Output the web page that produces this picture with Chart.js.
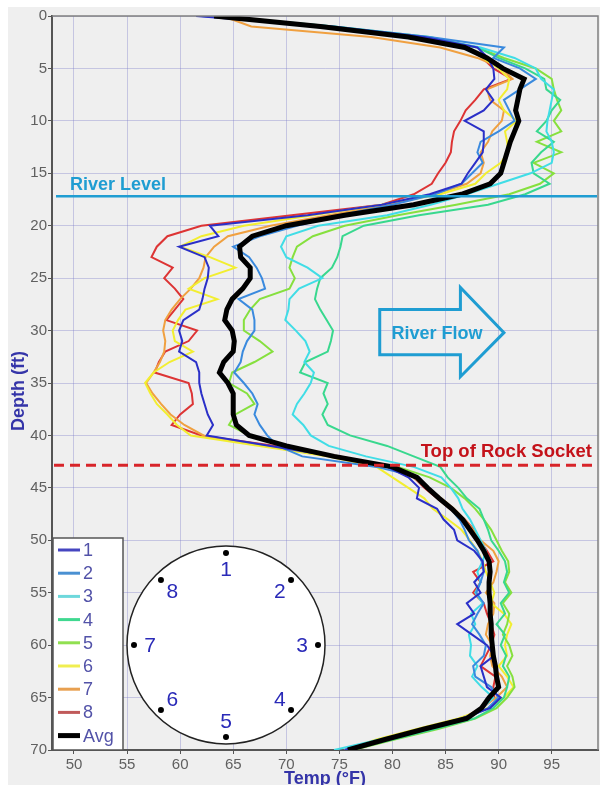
<!DOCTYPE html>
<html>
<head>
<meta charset="utf-8">
<script src="https://cdn.jsdelivr.net/npm/chart.js@4"></script>
<style>
  html, body { margin: 0; padding: 0; background: #fff; }
  canvas { display: block; }
</style>
</head>
<body>
<canvas id="chart" width="604" height="785"></canvas>
<script>
// Depth profile, one reading per foot (ft), temperatures in °F
const depthFt = Array.from({ length: 71 }, (_, i) => i);

const t1 = [61.5,74,83,88,89,89.5,89.6,88.8,89.5,88.6,86.8,88.6,88.6,88.5,87.8,87.1,86.5,83.5,79,72,
  62.8,63.6,59.9,62.3,62.7,62.6,62.3,62.1,61.8,60.3,59.9,60.2,59.9,61.5,61.8,61.8,62,62.3,62.6,63.1,
  62.5,68.5,74.5,79.5,81.5,82.5,82.3,84.2,84.8,85.8,86.1,87.7,88.5,88.6,87.7,88.3,87,87.7,86.1,87.5,
  88.9,89.6,88.3,88.6,88.9,90.2,89.2,86.5,82.8,79,75.5];
const t2 = [62,74.5,83.5,90.5,89.5,92,93.5,92,90.5,91,91.5,90,88.3,88,88.5,87.5,86.5,84,80,75,
  71,67.5,65,66.5,67.2,67.7,68,65.5,66.8,67,67,66.3,65.9,65.7,65.1,66,66.8,67.3,67,67.5,
  68.2,69.2,71.5,78.5,82.5,83.3,84.5,85.5,86.3,86.8,87.2,88,88.4,88.6,88.3,87.9,88.6,88,87.5,88.2,
  88.8,88.6,87.6,87.8,89.3,90,89,86.8,83.3,79.3,75.5];
const t3 = [63,74,83,88.3,91.5,93.5,94,95.2,95,94.8,94.6,94.5,95,95.2,95,93,90,87,83.6,79.5,
  73,70,69.5,70,72,73.4,71.2,70.3,70.2,69.9,70.9,71.8,72.2,71.7,72.6,72.3,71.7,71,70.6,71.6,
  72.3,74,77.5,82,84.6,85.5,86.2,86.6,87.3,87.8,88.3,88.8,88.5,88,88.3,87.8,88.5,87.4,87.8,87.2,
  87.4,87.3,88,87.5,88.4,89.5,88.5,86.8,83,78.8,74.5];
const t4 = [63.5,74.5,83.5,88,90,92.5,94.3,94.5,95.8,95,94.5,93.6,95.2,94,93.1,93.3,94.8,92.5,89,82.5,
  77.3,75.3,75.1,74.8,74.3,73.2,72.9,72.7,73.2,73.8,74.4,74.2,73.9,71.8,71.3,73.9,73.5,73.9,73.4,73.9,
  76,79.5,82,84.5,85.2,86.2,87,88.2,88.6,89,89.3,90,90.6,90.8,90.5,91,90.2,90.6,89.8,90.6,
  90.2,90.7,90.4,91,90.8,90.5,89.5,87.7,84,80,76];
const t5 = [63,74,83,88,90.5,93.5,95,95.2,95.5,95.9,95.2,95.9,93.6,95.9,93.3,95.2,93.9,91,86,80.5,
  75.5,72.5,71,70.6,70.3,70.8,70.3,67.5,66.6,66,66,67.5,68.7,67,64.9,64.6,66.3,67,65.2,64.6,
  66.5,70,74.5,80.5,83.5,85.5,86.8,87.8,88.6,89.3,89.8,90.3,90.9,91,90.6,91.2,90.4,91,90.8,90.4,
  91,91.3,90.8,91.3,91.5,90.8,89.8,87.8,84.3,80.2,76.3];
const t6 = [63.5,73.5,82,87,88.5,90,91,90.8,90,90.5,91.7,90.6,90.8,90.9,90.2,88.8,87.8,84.5,79,72.5,
  66,62,60,62.8,65.2,62.3,60.8,63.5,60.5,59.8,59.3,59.5,61.2,59,57.5,56.7,57.2,57.8,58.8,59.7,
  61,67.5,74,78.5,80,81.5,83,83.8,85.2,86.5,87.3,88,88.5,88.8,89.2,89.6,89.3,90.5,91.2,90.8,
  90.6,90.8,90,90.8,91.4,90.5,89,86.2,82.3,78.5,75.5];
const t7 = [64,66.7,78,84.5,88,90.3,91.3,88.9,89.2,90.5,90.3,89.4,89,88.3,88.6,88.3,87,84,79.5,74,
  68.5,64.5,63.2,62.4,62.2,61.8,61,60,59.2,58.6,58.4,58.6,58.5,58.1,57.5,56.8,57.4,58.2,59.1,60.4,
  62.2,68,74.2,79.5,82,83.3,84.6,85.8,86.8,87.6,88.3,89.5,90,89.8,89.5,88.8,89.6,89.5,89,88.8,
  89.4,89.2,89.4,90.3,90.8,89.8,88.3,86.6,83,79,75.8];
const t8 = [63,72.5,82,87,88.5,89.5,91.2,88.6,87.8,86.9,86.4,85.8,85.6,85.5,85,84.3,83.7,82,79,70.5,
  62,58.8,57.8,57.3,59.3,58.5,59.5,60.3,59.5,58.7,61.6,60.8,58.6,58,57.6,60.8,61.1,61.2,60,59.2,
  62,69,75,80,82,83,84.2,85.4,86.8,87.7,88.2,88.9,89.5,87.6,88.3,87.6,88.6,88.9,89.3,89.6,
  89.3,88.8,88.3,89.7,89.5,89.6,88.5,86.5,83,79,75.8];
const tAvg = [63.2,73.2,81.5,86.8,88.9,90.4,92.4,92,91.8,91.6,91.9,91.5,91.1,90.8,90.5,90.2,89.2,86.5,82,75.5,
  70,66.8,65.6,65.7,66.6,66.6,65.9,64.9,64.4,64.2,64.9,65.1,65,64.1,63.7,64.5,65,65,65,65.3,
  66.5,70,74.5,80,82.3,83.3,84.4,85.6,86.6,87.3,88,88.6,89.1,89.2,89.1,89.1,89.2,89.2,89.3,89.3,
  89.4,89.5,89.7,89.8,90,89.1,88.4,87,83,79.3,75.8];

const seriesLabels = ['1', '2', '3', '4', '5', '6', '7', '8'];
const seriesTemps = [t1, t2, t3, t4, t5, t6, t7, t8];
const tempTicks = [50, 55, 60, 65, 70, 75, 80, 85, 90, 95];
const depthTicks = [0, 5, 10, 15, 20, 25, 30, 35, 40, 45, 50, 55, 60, 65, 70];
const riverLevelFt = 17.2;
const rockSocketFt = 42.85;

const palette = ['#2a2fc8', '#3a8ade', '#40dde6', '#38d88e', '#86e03e', '#f2ee30', '#f0a040', '#dd3434'];
const legendPalette = ['#4646c0', '#4a90d2', '#6ed8dc', '#40d890', '#90e050', '#f0ee50', '#e8a050', '#c05a5a'];
const BLUE = '#1f9dd2';
const AXIS_BLUE = '#3434a8';

const datasets = seriesTemps.map((temps, i) => ({
  label: seriesLabels[i],
  data: temps.map((t, k) => ({ x: t, y: depthFt[k] })),
  borderColor: palette[i],
  borderWidth: 2,
  showLine: true,
  order: 1
}));
datasets.push({
  label: 'Avg',
  data: tAvg.map((t, k) => ({ x: t, y: depthFt[k] })),
  borderColor: '#000',
  borderWidth: 5,
  showLine: true,
  order: 0
});

const decor = {
  id: 'decor',
  beforeDraw(chart) {
    const ctx = chart.ctx;
    ctx.save();
    ctx.fillStyle = '#fff';
    ctx.fillRect(0, 0, chart.width, chart.height);
    ctx.fillStyle = '#efefef';
    ctx.fillRect(8, 7, 592, chart.height - 7);
    ctx.restore();
  },
  afterDatasetsDraw(chart) {
    const ctx = chart.ctx;
    const a = chart.chartArea;
    const xs = chart.scales.x, ys = chart.scales.y;
    ctx.save();

    // frame top / right
    ctx.strokeStyle = '#808080';
    ctx.lineWidth = 1.5;
    ctx.beginPath();
    ctx.moveTo(a.left, a.top); ctx.lineTo(a.right, a.top); ctx.lineTo(a.right, a.bottom);
    ctx.stroke();

    // river level
    const yRiver = ys.getPixelForValue(riverLevelFt);
    ctx.strokeStyle = BLUE;
    ctx.lineWidth = 2.5;
    ctx.beginPath(); ctx.moveTo(a.left + 4, yRiver); ctx.lineTo(a.right - 1, yRiver); ctx.stroke();
    ctx.fillStyle = BLUE;
    ctx.font = 'bold 18px "Liberation Sans", Arial, sans-serif';
    ctx.textBaseline = 'alphabetic';
    ctx.textAlign = 'left';
    ctx.fillText('River Level', 70, yRiver - 6);

    // top of rock socket
    const yRock = ys.getPixelForValue(rockSocketFt);
    ctx.strokeStyle = '#d8242a';
    ctx.lineWidth = 3;
    ctx.setLineDash([10, 6]);
    ctx.beginPath(); ctx.moveTo(a.left + 2, yRock); ctx.lineTo(a.right, yRock); ctx.stroke();
    ctx.setLineDash([]);
    ctx.fillStyle = '#c4121a';
    ctx.font = 'bold 18.5px "Liberation Sans", Arial, sans-serif';
    ctx.textAlign = 'right';
    ctx.fillText('Top of Rock Socket', 592, yRock - 8);

    // river flow arrow
    const bx0 = xs.getPixelForValue(78.8), bx1 = xs.getPixelForValue(86.4), tip = xs.getPixelForValue(90.5);
    const by0 = ys.getPixelForValue(28.0), by1 = ys.getPixelForValue(32.3);
    const hy0 = ys.getPixelForValue(25.9), hy1 = ys.getPixelForValue(34.4), ty = ys.getPixelForValue(30.2);
    ctx.strokeStyle = BLUE;
    ctx.lineWidth = 3;
    ctx.lineJoin = 'miter';
    ctx.beginPath();
    ctx.moveTo(bx0, by0); ctx.lineTo(bx1, by0); ctx.lineTo(bx1, hy0); ctx.lineTo(tip, ty);
    ctx.lineTo(bx1, hy1); ctx.lineTo(bx1, by1); ctx.lineTo(bx0, by1); ctx.closePath();
    ctx.stroke();
    ctx.fillStyle = BLUE;
    ctx.font = 'bold 18px "Liberation Sans", Arial, sans-serif';
    ctx.textAlign = 'center';
    ctx.fillText('River Flow', 437, ty + 6);

    // legend
    const lx = a.left + 1, ly = 538, lw = 70, lh = a.bottom - ly;
    ctx.fillStyle = '#fff';
    ctx.fillRect(lx, ly, lw, lh);
    ctx.strokeStyle = '#555';
    ctx.lineWidth = 1.5;
    ctx.strokeRect(lx, ly, lw, lh);
    const entries = seriesLabels.map((l, i) => ({ label: l, color: legendPalette[i], w: 3 }))
      .concat([{ label: 'Avg', color: '#000', w: 5 }]);
    ctx.font = '18px "Liberation Sans", Arial, sans-serif';
    ctx.textAlign = 'left';
    ctx.textBaseline = 'middle';
    entries.forEach((e, i) => {
      const y = 550 + i * 23.2;
      ctx.strokeStyle = e.color;
      ctx.lineWidth = e.w;
      ctx.beginPath(); ctx.moveTo(58, y); ctx.lineTo(80, y); ctx.stroke();
      ctx.fillStyle = '#5252a8';
      ctx.fillText(e.label, 83, y + 1);
    });

    // pile cross-section with sensor positions
    const cx = 226, cy = 645;
    ctx.fillStyle = '#fff';
    ctx.strokeStyle = '#222';
    ctx.lineWidth = 1.5;
    ctx.beginPath(); ctx.arc(cx, cy, 99, 0, Math.PI * 2); ctx.fill(); ctx.stroke();
    ctx.font = '21px "Liberation Sans", Arial, sans-serif';
    ctx.textAlign = 'center';
    seriesLabels.forEach((l, i) => {
      const ang = -Math.PI / 2 + i * Math.PI / 4;
      ctx.fillStyle = '#000';
      ctx.beginPath(); ctx.arc(cx + 92 * Math.cos(ang), cy + 92 * Math.sin(ang), 3, 0, Math.PI * 2); ctx.fill();
      ctx.fillStyle = '#2a2ab8';
      ctx.fillText(l, cx + 76 * Math.cos(ang), cy + 76 * Math.sin(ang) + 1);
    });

    // axis titles
    ctx.fillStyle = AXIS_BLUE;
    ctx.font = 'bold 18px "Liberation Sans", Arial, sans-serif';
    ctx.textBaseline = 'alphabetic';
    ctx.textAlign = 'center';
    ctx.fillText('Temp (°F)', (a.left + a.right) / 2, 784);
    ctx.translate(24, (a.top + a.bottom) / 2 + 8);
    ctx.rotate(-Math.PI / 2);
    ctx.fillText('Depth (ft)', 0, 0);
    ctx.restore();
  }
};

const tickFont = { family: '"Liberation Sans", Arial, sans-serif', size: 15 };
const gridColor = 'rgba(120,120,200,0.35)';

new Chart(document.getElementById('chart'), {
  type: 'scatter',
  data: { datasets },
  options: {
    responsive: false,
    animation: false,
    devicePixelRatio: 1,
    layout: { padding: { left: 0, right: 6, top: 16, bottom: 0 } },
    elements: { point: { radius: 0 }, line: { tension: 0 } },
    plugins: { legend: { display: false }, tooltip: { enabled: false } },
    scales: {
      x: {
        type: 'linear', min: 47.93, max: 99.36,
        afterBuildTicks: (s) => { s.ticks = tempTicks.map(v => ({ value: v })); },
        afterFit: (s) => { s.height = 35; },
        grid: { color: gridColor, lineWidth: 1, tickLength: 4, tickColor: '#555' },
        border: { color: '#555', width: 2 },
        ticks: { font: tickFont, color: '#606060', padding: 2, maxRotation: 0 }
      },
      y: {
        type: 'linear', reverse: true, min: 0, max: 70,
        afterBuildTicks: (s) => { s.ticks = depthTicks.map(v => ({ value: v })); },
        afterFit: (s) => { s.width = 52; },
        grid: { color: gridColor, lineWidth: 1, tickLength: 4, tickColor: '#555' },
        border: { color: '#555', width: 2 },
        ticks: { font: tickFont, color: '#606060', padding: 1 }
      }
    }
  },
  plugins: [decor]
});
</script>
</body>
</html>
